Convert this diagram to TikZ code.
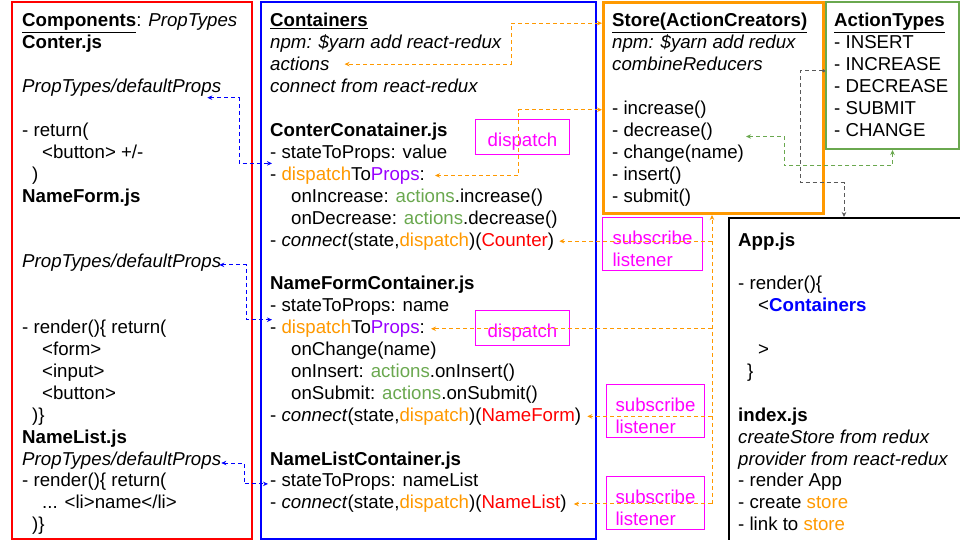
\documentclass[tikz,border=0pt]{standalone}
\usepackage{fontspec}
\setmainfont{Liberation Sans}
\usetikzlibrary{arrows.meta,calc}
\definecolor{gorange}{HTML}{FF9900}
\definecolor{ggreen}{HTML}{6AA84F}
\definecolor{gpurple}{HTML}{9900FF}
\definecolor{gmagenta}{HTML}{FF00FF}
\definecolor{ggray}{HTML}{595959}
\newcommand{\dsp}{\textcolor{gorange}{dispatch}}
\newcommand{\acts}{\textcolor{ggreen}{actions}}
\tikzset{
  txt/.style={anchor=base west, inner sep=0pt},
  panel/.style={draw=#1, line width=2pt, anchor=north west, inner sep=0pt},
  tag/.style={draw=gmagenta, text=gmagenta, line width=1pt, anchor=north west,
    inner sep=4pt, align=left},
  wire/.style={draw=#1, line width=1pt, dash pattern=on 4pt off 3pt},
}

\begin{document}
\begin{tikzpicture}[x=1pt, y=-1pt, font=\fontsize{18.67}{21.9}\selectfont,
  >={Stealth[length=5pt,width=4.5pt]}]
\useasboundingbox (0,0) rectangle (960,540);
% panels
\node[panel=red, minimum width=240pt, minimum height=537pt] (components) at (11,1) {};
\node[panel=blue, minimum width=335pt, minimum height=537pt] (containers) at (260,1) {};
\node[panel=gorange, line width=3pt, minimum width=220pt, minimum height=211pt] (store) at (602,1) {};
\node[panel=ggreen, minimum width=133pt, minimum height=147pt] (types) at (825,1) {};
\node[panel=black, minimum width=260pt, minimum height=340pt] (app) at (728,217) {};

% components
\foreach \i/\t in {0/{\underline{\textbf{Components}}: \textit{PropTypes}},
  1/{\textbf{Conter.js}}, 3/{\textit{PropTypes/defaultProps}},
  5/{- return(}, 6/{\hspace*{20pt}<button> +/-}, 7/{\hspace*{10pt})},
  8/{\textbf{NameForm.js}}, 11/{\textit{PropTypes/defaultProps}},
  14/{- render()\{ return(}, 15/{\hspace*{20pt}<form>}, 16/{\hspace*{20pt}<input>},
  17/{\hspace*{20pt}<button>}, 18/{\hspace*{10pt})\}},
  19/{\textbf{NameList.js}}, 20/{\textit{PropTypes/defaultProps}},
  21/{- render()\{ return(}, 22/{\hspace*{20pt}... <li>name</li>}, 23/{\hspace*{10pt})\}}}
  \node[txt] (cmp\i) at (22,{27+21.9*\i}) {\t};

% containers
\foreach \i/\t in {0/{\underline{\textbf{Containers}}},
  1/{\textit{npm: \$yarn add react-redux}}, 2/{\textit{actions}},
  3/{\textit{connect from react-redux}},
  5/{\textbf{ConterConatainer.js}}, 6/{- stateToProps: value},
  7/{- \dsp{}To\textcolor{gpurple}{Props}:},
  8/{\hspace*{21pt}onIncrease: \acts.increase()},
  9/{\hspace*{21pt}onDecrease: \acts.decrease()},
  10/{- \textit{connect}(state,\dsp)(\textcolor{red}{Counter})},
  12/{\textbf{NameFormContainer.js}}, 13/{- stateToProps: name},
  14/{- \dsp{}To\textcolor{gpurple}{Props}:}, 15/{\hspace*{21pt}onChange(name)},
  16/{\hspace*{21pt}onInsert: \acts.onInsert()},
  17/{\hspace*{21pt}onSubmit: \acts.onSubmit()},
  18/{- \textit{connect}(state,\dsp)(\textcolor{red}{NameForm})},
  20/{\textbf{NameListContainer.js}}, 21/{- stateToProps: nameList},
  22/{- \textit{connect}(state,\dsp)(\textcolor{red}{NameList})}}
  \node[txt] (ctn\i) at (270,{27+21.9*\i}) {\t};

% store
\foreach \i/\t in {0/{\underline{\textbf{Store(ActionCreators)}}},
  1/{\textit{npm: \$yarn add redux}}, 2/{\textit{combineReducers}},
  4/{- increase()}, 5/{- decrease()}, 6/{- change(name)}, 7/{- insert()}, 8/{- submit()}}
  \node[txt] (sto\i) at (612,{27+21.9*\i}) {\t};

% action types
\foreach \i/\t in {0/{\underline{\textbf{ActionTypes}}}, 1/{- INSERT}, 2/{- INCREASE},
  3/{- DECREASE}, 4/{- SUBMIT}, 5/{- CHANGE}}
  \node[txt] (typ\i) at (834,{27+21.9*\i}) {\t};

% app / index
\foreach \i/\t in {10/{\textbf{App.js}}, 12/{- render()\{},
  13/{\hspace*{20pt}<\textcolor{blue}{\textbf{Containers}}}, 15/{\hspace*{20pt}>},
  16/{\hspace*{9pt}\}}, 18/{\textbf{index.js}}, 19/{\textit{createStore from redux}},
  20/{\textit{provider from react-redux}}, 21/{- render App},
  22/{- create \textcolor{gorange}{store}}, 23/{- link to \textcolor{gorange}{store}}}
  \node[txt] (apl\i) at (738,{27+21.9*\i}) {\t};

% tags
\node[tag, minimum width=94pt] (dsp1) at (475,119) {\rule{0pt}{23pt}dispatch};
\node[tag, minimum width=94pt] (dsp2) at (475,310) {\rule{0pt}{23pt}dispatch};
\node[tag, minimum width=100pt] (sub1) at (602,217) {\rule{0pt}{23pt}subscribe\\listener};
\node[tag, minimum width=98pt] (sub2) at (606,384) {\rule{0pt}{23pt}subscribe\\listener};
\node[tag, minimum width=98pt] (sub3) at (606,476) {\rule{0pt}{23pt}subscribe\\listener};

% props links
\draw[wire=blue,<->] ([shift={(-14pt,-5pt)}]cmp3.base east) -- ++(32,0) |- ([shift={(2pt,-5pt)}]ctn6.base west);
\draw[wire=blue,<->] ([shift={(-2pt,3pt)}]cmp11.base east) -- ++(27,0) |- ([shift={(2pt,-8pt)}]ctn13.base west);
\draw[wire=blue,<->] ([yshift=2pt]cmp20.base east) -- ++(23,0) |- ([shift={(-2pt,3pt)}]ctn21.base west);

% store links
\draw[wire=gorange,<->] (store.west |- sto0) -- ++(-91,0) |- ([xshift=15pt]ctn2.east);
\draw[wire=gorange,<->] (store.west |- sto4) -- ++(-84,0) |- ([xshift=10pt]ctn7.east);
\coordinate (trunk) at (712,0);
\draw[wire=gorange,->] (trunk |- ctn22) -- (trunk |- store.south);
\foreach \n/\d in {10/5,14/6,18/6,22/7}
  \draw[wire=gorange,->] (trunk |- ctn\n) -- ([xshift=\d pt]ctn\n.east);

% types links
\draw[wire=ggreen,<->] (types.south) |- ++(-108,16) |- ([xshift=33pt]sto5.base east);
\draw[wire=ggray,{Circle[length=3pt]}->] (types.west |- typ2.base) -| ++(-25,112) -| ([xshift=116pt]app.north west);
\end{tikzpicture}
\end{document}
